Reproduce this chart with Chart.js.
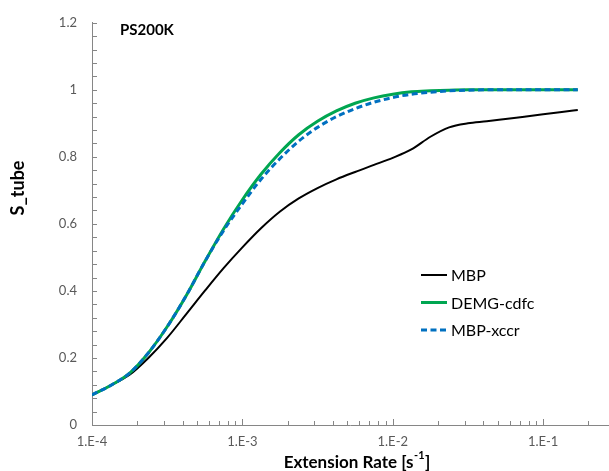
<!DOCTYPE html>
<html>
<head>
<meta charset="utf-8">
<script src="https://cdn.jsdelivr.net/npm/chart.js@4/dist/chart.umd.min.js"></script>
<style>
html,body{margin:0;padding:0;background:#fff;}
#wrap{position:relative;width:609px;height:471px;}
</style>
</head>
<body>
<div id="wrap"><canvas id="c" width="609" height="471"></canvas></div>
<script>
// ---- data ----
const extensionRate = [1.00e-4, 1.33e-4, 1.78e-4, 2.37e-4, 3.16e-4, 4.22e-4, 5.62e-4, 7.50e-4,
  1.00e-3, 1.33e-3, 1.78e-3, 2.37e-3, 3.16e-3, 4.22e-3, 5.62e-3, 7.50e-3,
  1.00e-2, 1.33e-2, 1.78e-2, 2.37e-2, 3.16e-2, 4.22e-2, 5.62e-2, 7.50e-2,
  1.00e-1, 1.33e-1, 1.70e-1];
const mbp = [0.090, 0.118, 0.150, 0.200, 0.260, 0.330, 0.400, 0.468,
  0.530, 0.587, 0.637, 0.676, 0.707, 0.733, 0.755, 0.776,
  0.797, 0.822, 0.860, 0.888, 0.900, 0.906, 0.913, 0.920,
  0.927, 0.934, 0.940];
const demgCdfc = [0.090, 0.118, 0.155, 0.215, 0.293, 0.385, 0.487, 0.585,
  0.672, 0.748, 0.813, 0.866, 0.906, 0.937, 0.960, 0.976,
  0.987, 0.994, 0.997, 0.999, 1.000, 1.000, 1.000, 1.000,
  1.000, 1.000, 1.000];
const mbpXccr = [0.090, 0.118, 0.155, 0.215, 0.293, 0.385, 0.487, 0.580,
  0.660, 0.733, 0.795, 0.847, 0.888, 0.920, 0.944, 0.963,
  0.977, 0.987, 0.993, 0.997, 0.999, 1.000, 1.000, 1.000,
  1.000, 1.000, 1.000];
const xTickValues = [1e-4, 1e-3, 1e-2, 1e-1];
const xTickLabels = ['1.E-4', '1.E-3', '1.E-2', '1.E-1'];
const yTickValues = [0, 0.2, 0.4, 0.6, 0.8, 1.0, 1.2];
const yTickLabels = ['0', '0.2', '0.4', '0.6', '0.8', '1', '1.2'];
const seriesNames = ['MBP', 'DEMG-cdfc', 'MBP-xccr'];
const chartLabel = 'PS200K';
const xTitle = 'Extension Rate [s';
const xTitleSup = '-1';
const yTitle = 'S_tube';

const FONT = 'Lato, "Liberation Sans", sans-serif';
const AXIS = '#868686';
const LABEL = '#595959';

const toPts = (arr) => arr.map((v, i) => ({x: extensionRate[i], y: v}));

const decor = {
  id: 'decor',
  afterDraw(chart) {
    const {ctx, chartArea: {left, right, top, bottom}, scales: {x, y}} = chart;
    ctx.save();
    ctx.strokeStyle = AXIS;
    ctx.lineWidth = 1;
    ctx.beginPath();
    for (let e = -4; e <= 0; e++) {
      for (let k = 1; k <= 9; k++) {
        const v = k * Math.pow(10, e);
        if (v < x.min * 0.999 || v > x.max) continue;
        const px = Math.round(x.getPixelForValue(v)) + 0.5;
        const len = k === 1 ? 6 : 4;
        ctx.moveTo(px, bottom);
        ctx.lineTo(px, bottom - len);
      }
    }
    for (let i = 0; i <= 30; i++) {
      const v = i * 0.04;
      const py = Math.round(y.getPixelForValue(v)) + 0.5;
      ctx.moveTo(left, py);
      ctx.lineTo(left + 5, py);
    }
    ctx.stroke();

    ctx.fillStyle = '#000';
    ctx.font = 'bold 15px ' + FONT;
    ctx.textAlign = 'left';
    ctx.textBaseline = 'middle';
    ctx.fillText(chartLabel, 120, 30);

    const TF = 'bold 17px ' + FONT;
    const SF = 'bold 11px ' + FONT;
    ctx.font = TF;
    const mainW = ctx.measureText(xTitle).width;
    ctx.font = SF;
    const supW = ctx.measureText(xTitleSup).width;
    ctx.font = TF;
    const closeW = ctx.measureText(']').width;
    const total = mainW + supW + closeW + 1;
    let sx = 357 - total / 2;
    ctx.textBaseline = 'alphabetic';
    ctx.fillText(xTitle, sx, 468);
    ctx.font = SF;
    ctx.fillText(xTitleSup, sx + mainW + 0.5, 459);
    ctx.font = TF;
    ctx.fillText(']', sx + mainW + supW + 1, 468);

    ctx.save();
    ctx.translate(18, 188);
    ctx.rotate(-Math.PI / 2);
    ctx.textAlign = 'center';
    ctx.textBaseline = 'middle';
    ctx.font = 'bold 18px ' + FONT;
    ctx.fillText(yTitle, 0, 0);
    ctx.restore();

    const ly = [275, 302.5, 330];
    chart.data.datasets.forEach((ds, i) => {
      ctx.save();
      ctx.strokeStyle = ds.borderColor;
      ctx.lineWidth = ds.borderWidth;
      ctx.setLineDash(ds.borderDash || []);
      ctx.beginPath();
      ctx.moveTo(421, ly[i]);
      ctx.lineTo(447, ly[i]);
      ctx.stroke();
      ctx.restore();
      ctx.fillStyle = '#000';
      ctx.font = '16px ' + FONT;
      ctx.textAlign = 'left';
      ctx.textBaseline = 'middle';
      ctx.fillText(ds.label, 451, ly[i] + 1);
    });
    ctx.restore();
  }
};

new Chart(document.getElementById('c'), {
  type: 'line',
  data: {
    datasets: [
      {label: seriesNames[0], data: toPts(mbp), borderColor: '#000000', borderWidth: 2,
       pointRadius: 0, cubicInterpolationMode: 'monotone', fill: false, order: 2},
      {label: seriesNames[1], data: toPts(demgCdfc), borderColor: '#00A651', borderWidth: 3,
       pointRadius: 0, cubicInterpolationMode: 'monotone', fill: false, order: 1},
      {label: seriesNames[2], data: toPts(mbpXccr), borderColor: '#0070C0', borderWidth: 3,
       borderDash: [6, 3.5], pointRadius: 0, cubicInterpolationMode: 'monotone', fill: false, order: 0}
    ]
  },
  options: {
    responsive: false,
    animation: false,
    devicePixelRatio: 1,
    layout: {padding: {top: 15, right: 1, left: 0, bottom: 0}},
    plugins: {legend: {display: false}, tooltip: {enabled: false}},
    scales: {
      x: {
        type: 'logarithmic',
        min: 1e-4,
        max: 0.27,
        afterBuildTicks: (s) => { s.ticks = xTickValues.map(v => ({value: v, major: true})); },
        afterFit: (s) => { s.height = 46; },
        grid: {display: false, drawTicks: false},
        border: {display: true, color: AXIS, width: 1},
        ticks: {
          autoSkip: false, maxRotation: 0, padding: 9,
          color: LABEL, font: {family: FONT, size: 13},
          callback: (v) => { const i = xTickValues.findIndex(t => Math.abs(t - v) / t < 1e-6); return i >= 0 ? xTickLabels[i] : ''; }
        }
      },
      y: {
        type: 'linear',
        min: 0,
        max: 1.2,
        afterBuildTicks: (s) => { s.ticks = yTickValues.map(v => ({value: v})); },
        afterFit: (s) => { s.width = 92; },
        grid: {display: false, drawTicks: false},
        border: {display: true, color: AXIS, width: 1},
        ticks: {
          padding: 15,
          color: LABEL, font: {family: FONT, size: 13},
          callback: (v) => { const i = yTickValues.findIndex(t => Math.abs(t - v) < 1e-6); return i >= 0 ? yTickLabels[i] : ''; }
        }
      }
    }
  },
  plugins: [decor]
});
</script>
</body>
</html>
